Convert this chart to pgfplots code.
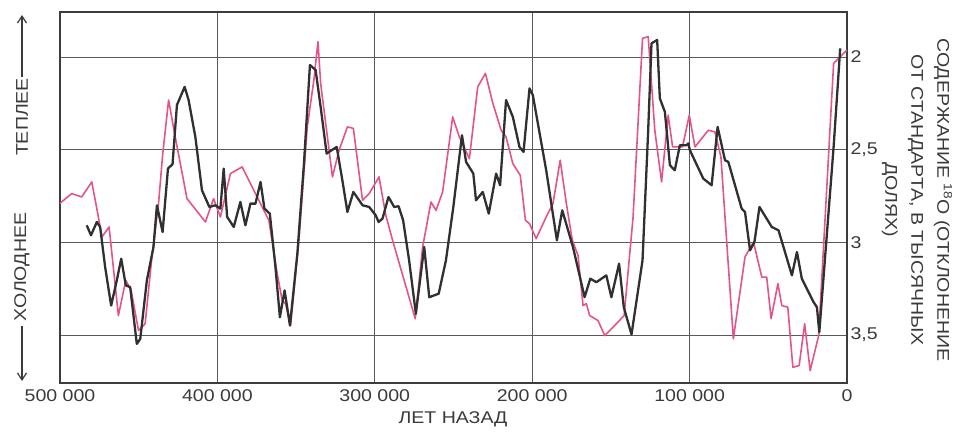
\documentclass[border=0pt]{standalone}
\usepackage{fontspec}
\setmainfont{Liberation Sans}[FakeStretch=1.15]
\usepackage{pgfplots}
\pgfplotsset{compat=1.18}
\usetikzlibrary{arrows.meta}
\definecolor{curvepink}{HTML}{E6538C}
\definecolor{curvedark}{HTML}{303030}
\definecolor{framegray}{HTML}{3C3C3C}
\definecolor{gridgray}{HTML}{5A5A5A}
\definecolor{textgray}{HTML}{3A3A3A}

\begin{document}
\begin{tikzpicture}[x=1pt,y=1pt]
\path[use as bounding box] (0,0) rectangle (957,432);
\begin{axis}[
  at={(60pt,49pt)}, anchor=south west,
  width=787pt, height=371pt, scale only axis,
  xmin=0, xmax=500000, x dir=reverse,
  ymin=1.757, ymax=3.759, y dir=reverse,
  scaled x ticks=false,
  xtick={0,100000,200000,300000,400000,500000},
  xticklabels={0,100 000,200 000,300 000,400 000,500 000},
  ytick={2,2.5,3,3.5},
  yticklabels={2,{2,5},3,{3,5}},
  yticklabel pos=right,
  major tick length=0pt,
  grid=major,
  grid style={gridgray, line width=1pt},
  axis line style={framegray, line width=2.3pt},
  tick label style={font=\fontsize{17}{19}\selectfont, text=textgray},
  xticklabel style={yshift=-3pt},
]
% pink series
\addplot[curvepink, line width=1.6pt, line join=round] coordinates {
(500000,2.789)(492600,2.737)(486200,2.755)(479800,2.674)(476000,2.845)(473400,2.971)
(468800,2.917)(462900,3.395)(458200,3.205)(454800,3.259)(450100,3.476)(445900,3.439)
(441600,3.079)(437400,2.791)(434800,2.530)(431000,2.232)(426800,2.431)(419300,2.764)
(407600,2.890)(402400,2.764)(398100,2.863)(391700,2.629)(384300,2.593)(372600,2.791)
(367300,2.881)(362000,3.169)(358800,3.314)(356700,3.331)(353500,3.449)(348200,2.989)
(342900,2.377)(338700,2.124)(336100,1.917)(334400,2.142)(326900,2.647)(322700,2.503)
(317400,2.377)(313600,2.385)(307800,2.773)(303600,2.737)(297300,2.647)(293000,2.854)
(288700,2.989)(274300,3.412)(269600,3.025)(264300,2.782)(261100,2.827)(256900,2.728)
(250500,2.323)(246300,2.431)(239900,2.548)(234600,2.161)(229700,2.088)(225000,2.250)
(219700,2.395)(216600,2.431)(212300,2.575)(207600,2.638)(204300,2.881)(201700,2.899)
(197500,2.980)(191100,2.863)(186800,2.791)(182200,2.557)(178300,2.791)(174500,2.989)
(170900,3.070)(167700,3.341)(165600,3.331)(163500,3.395)(158200,3.422)(153900,3.503)
(146500,3.439)(141600,3.395)(135900,2.863)(129900,1.899)(126300,1.890)(122100,2.395)
(117800,2.674)(113600,2.314)(110800,2.485)(104500,2.485)(100200,2.314)(96600,2.485)
(88100,2.395)(83900,2.404)(80100,2.539)(72200,3.521)(64800,3.079)(59400,2.998)
(54100,3.188)(51000,3.188)(48200,3.412)(43900,3.223)(41400,3.341)(37600,3.350)
(34400,3.674)(30400,3.665)(26900,3.439)(23400,3.692)(18000,3.503)(8500,2.034)
(5300,2.007)(0,1.962)};
% dark series
\addplot[curvedark, line width=2.3pt, line join=round] coordinates {
(483000,2.908)(480300,2.962)(476600,2.890)(474500,2.917)(471300,3.134)(467500,3.341)
(463900,3.205)(461100,3.088)(458200,3.232)(455400,3.242)(451200,3.548)(449000,3.521)
(444800,3.205)(440600,3.025)(438400,2.800)(434800,2.944)(431400,2.602)(428500,2.578)
(425700,2.259)(420800,2.161)(418300,2.232)(414000,2.431)(409800,2.719)(405100,2.809)
(401300,2.800)(398100,2.818)(396000,2.602)(393800,2.863)(389600,2.917)(385400,2.782)
(382200,2.908)(379000,2.791)(375800,2.791)(372600,2.674)(370100,2.818)(366700,2.845)
(363100,3.134)(360300,3.404)(357300,3.259)(353900,3.449)(349200,3.061)(345000,2.575)
(341200,2.043)(337600,2.070)(334400,2.269)(330600,2.521)(324200,2.485)(320600,2.665)
(317400,2.836)(313600,2.728)(307800,2.800)(303600,2.809)(299400,2.854)(297600,2.890)
(295100,2.872)(291300,2.755)(287700,2.809)(284900,2.805)(282000,2.881)(278200,3.097)
(273900,3.385)(268600,3.025)(265400,3.296)(259400,3.277)(254800,3.097)(250100,2.809)
(244600,2.422)(242000,2.566)(237400,2.629)(235700,2.773)(231400,2.728)(227600,2.845)
(222900,2.629)(220400,2.692)(216600,2.232)(212300,2.323)(208100,2.485)(205500,2.512)
(201700,2.169)(199600,2.205)(191100,2.611)(184300,2.989)(180900,2.827)(174100,3.025)
(166700,3.296)(163100,3.196)(159200,3.215)(152900,3.178)(149700,3.296)(144800,3.115)
(141800,3.350)(136900,3.497)(129900,3.097)(126300,2.395)(124200,1.926)(120600,1.908)
(118900,2.223)(115700,2.296)(112500,2.584)(109400,2.611)(106200,2.476)(101900,2.476)
(100800,2.466)(99800,2.503)(91300,2.656)(86000,2.692)(82200,2.377)(77500,2.557)
(75400,2.566)(66900,2.818)(64800,2.836)(61600,3.043)(58800,2.998)(55600,2.809)
(47800,2.917)(43500,2.935)(35000,3.178)(31800,3.052)(28700,3.196)(21200,3.323)
(19100,3.350)(17600,3.485)(8500,2.485)(4300,1.953)};
\end{axis}

% axis titles
\begin{scope}[text=textgray, font=\fontsize{17}{19}\selectfont]
\node[anchor=base] at (453,9) {ЛЕТ НАЗАД};
\node[rotate=90] at (22,315) {ТЕПЛЕЕ};
\node[rotate=90] at (22,165) {ХОЛОДНЕЕ};
\node[rotate=-90, align=center, font=\fontsize{17}{26}\selectfont] at (917,232)
  {СОДЕРЖАНИЕ \textsuperscript{18}O (ОТКЛОНЕНИЕ\\ОТ СТАНДАРТА, В ТЫСЯЧНЫХ\\ДОЛЯХ)};
\end{scope}
\draw[textgray, line width=1.2pt, -{Straight Barb[length=7pt,width=9pt]}] (22,355) -- (22,417);
\draw[textgray, line width=1.2pt, -{Straight Barb[length=7pt,width=9pt]}] (22,106) -- (22,51);
\end{tikzpicture}
\end{document}
